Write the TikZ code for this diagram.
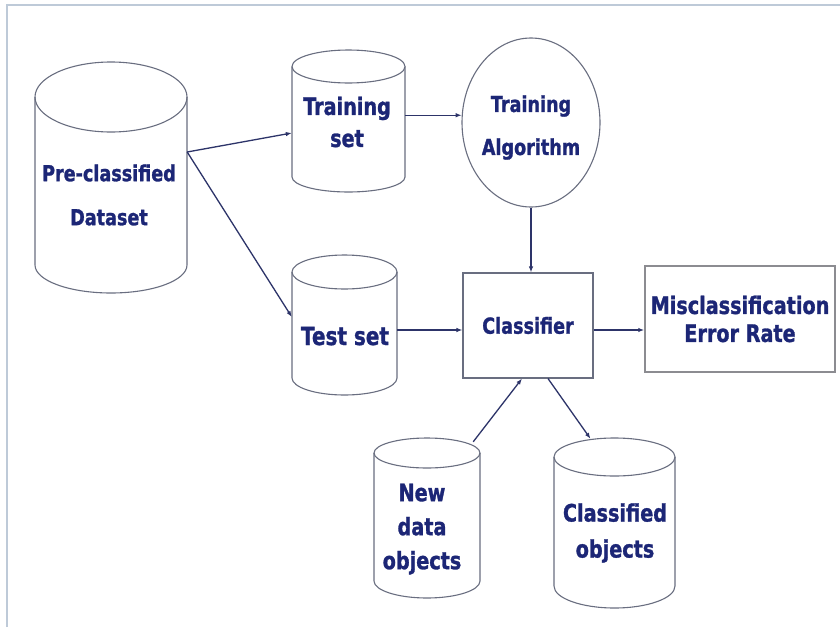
\documentclass[tikz,border=0pt]{standalone}
\usepackage{fontspec}
\newfontfamily\lblfont{DejaVu Sans}[FakeStretch=0.8, BoldFeatures={FakeBold=1.2}]
\usetikzlibrary{shapes.geometric,arrows.meta}
\definecolor{txtblue}{RGB}{28,38,118}
\definecolor{outl}{RGB}{105,110,128}
\definecolor{arr}{RGB}{45,52,105}
\definecolor{framec}{RGB}{190,202,216}
\definecolor{misline}{RGB}{140,140,145}

\newcommand\dbcyl[7]{%
  \pgfmathsetmacro\cyCx{(#2+#3)/2}%
  \pgfmathsetmacro\cyRx{(#3-#2)/2}%
  \pgfmathsetmacro\cyTop{#4+#6}%
  \pgfmathsetmacro\cyBot{#5-#7}%
  \pgfmathsetmacro\cyW{#3-#2}%
  \pgfmathsetmacro\cyH{#5-#4}%
  \pgfmathsetmacro\cyCy{(#4+#5)/2}%
  \draw[shapeline] (\cyCx,\cyTop) ellipse [x radius=\cyRx, y radius=#6];
  \draw[shapeline] (#2,\cyTop) -- (#2,\cyBot) arc [start angle=180, end angle=0, x radius=\cyRx, y radius=#7] -- (#3,\cyTop);
  \node[inner sep=0pt, minimum width=\cyW pt, minimum height=\cyH pt] (#1) at (\cyCx,\cyCy) {};
}

\begin{document}
\begin{tikzpicture}[x=1pt,y=-1pt,
  shapeline/.style={draw=outl, line width=1.1pt},
  lbl/.style={text=txtblue, align=center, inner sep=0pt},
  conn/.style={draw=arr, line width=1.3pt, -{Latex[length=6pt,width=4.5pt]}},
  boxnode/.style={shapeline, text=txtblue, align=center, inner sep=0pt}]
\useasboundingbox (0,0) rectangle (840,627);
\fill[white] (0,0) rectangle (840,627);
\draw[framec, line width=2pt] (7,627) -- (7,5) -- (840,5);

% cylinders: name, xl, xr, ytop, ybottom, top ry, bottom ry
\dbcyl{pre}{35}{187}{62}{293}{35}{28}
\dbcyl{train}{292}{405}{50}{192}{16.5}{15}
\dbcyl{test}{292}{397}{255}{395}{17}{17}
\dbcyl{new}{374}{480}{438}{598}{15}{17}
\dbcyl{clsobj}{554}{675}{438}{608}{19}{22}

\node[lbl, font=\lblfont\bfseries\fontsize{22}{44}\selectfont] (preT) at (109,195) {Pre-classified\\Dataset};
\node[lbl, font=\lblfont\bfseries\fontsize{24}{32}\selectfont] (trainT) at (347,122) {Training\\set};
\node[lbl, font=\lblfont\bfseries\fontsize{25}{25}\selectfont, anchor=base] (testT) at (345,345) {Test set};
\node[lbl, font=\lblfont\bfseries\fontsize{24}{34}\selectfont] (newT) at (422,529) {New\\data\\objects};
\node[lbl, font=\lblfont\bfseries\fontsize{24}{36}\selectfont] (clsobjT) at (615,533) {Classified\\objects};

\node[ellipse, shapeline, minimum width=138pt, minimum height=169pt, inner sep=0pt] (algo) at (531,122.5) {};
\node[lbl, font=\lblfont\bfseries\fontsize{22}{43}\selectfont] (algoT) at (531,127.5) {Training\\Algorithm};

\node[boxnode, minimum width=130pt, minimum height=105pt, font=\lblfont\bfseries\fontsize{22}{26}\selectfont] (cls) at (528,325.5) {Classifier};
\node[boxnode, draw=misline, line width=1.5pt, minimum width=190pt, minimum height=106pt, font=\lblfont\bfseries\fontsize{24}{28}\selectfont] (mis) at (740,319) {Misclassification\\Error Rate};

% connectors
\coordinate (p0) at ([yshift=25.5pt]pre.east);
\draw[conn] (p0) -- ([yshift=-12pt]train.west);
\draw[conn] (p0) -- ([yshift=8pt]test.west);
\draw[conn] (train.east |- algo.174) -- (algo.174);
\draw[conn] (algo.south) -- (algo.south |- cls.north);
\coordinate (tc) at ([yshift=-5pt]test.east);
\draw[conn] (tc) -- (tc -| cls.west);
\draw[conn] (cls.east |- tc) -- (mis.west |- tc);
\draw[conn] ([xshift=-7pt,yshift=-4pt]new.north east) -- ([xshift=-6pt]cls.south);
\draw[conn] ([xshift=20pt]cls.south) -- ([xshift=-24pt,yshift=-1pt]clsobj.north);
\end{tikzpicture}
\end{document}
